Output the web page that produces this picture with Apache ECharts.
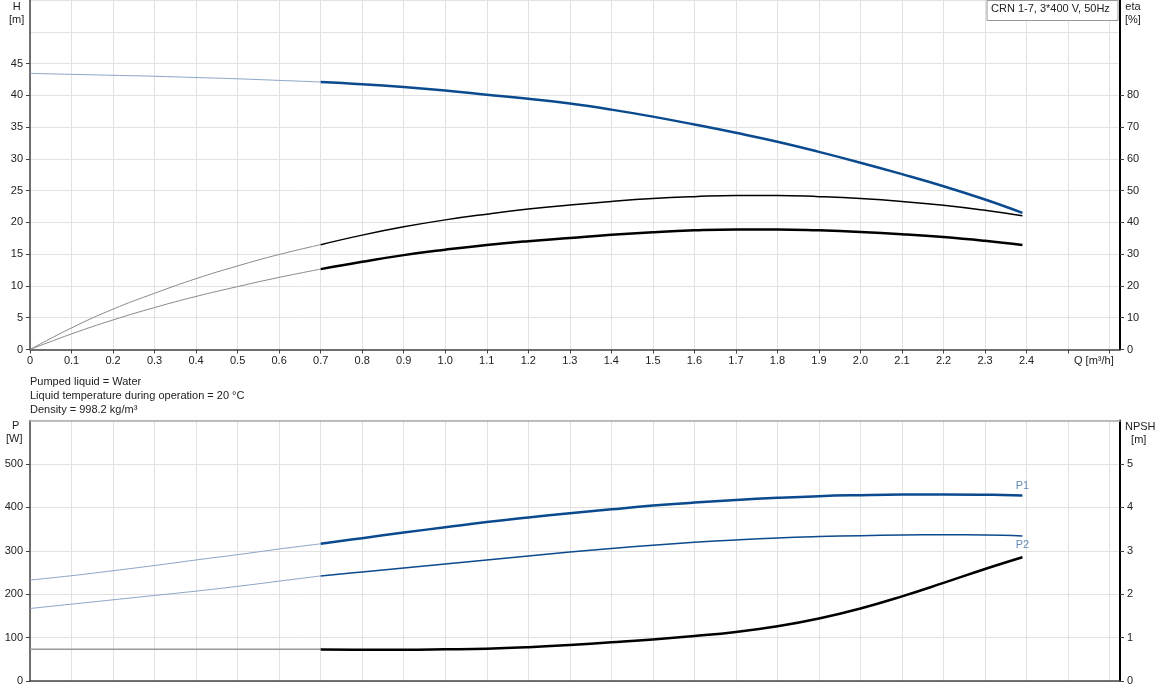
<!DOCTYPE html>
<html><head><meta charset="utf-8">
<script src="https://cdn.jsdelivr.net/npm/echarts@6/dist/echarts.min.js"></script>
<style>html,body{margin:0;padding:0;background:#fff}#c{width:1162px;height:700px}</style>
</head><body><div id="c"></div>
<script>
// ---- data ----
const qThin  = [0, 0.1, 0.2, 0.3, 0.4, 0.5, 0.6, 0.7];
const qThick = [0.7, 0.8, 0.9, 1.0, 1.1, 1.2, 1.3, 1.4, 1.5, 1.6, 1.7, 1.8, 1.9, 2.0, 2.1, 2.2, 2.3, 2.39];

const hThin  = [43.45, 43.3, 43.15, 43.0, 42.8, 42.6, 42.35, 42.1];
const hThick = [42.1, 41.75, 41.3, 40.75, 40.1, 39.45, 38.7, 37.75, 36.65, 35.4, 34.1, 32.7, 31.1, 29.4, 27.6, 25.7, 23.6, 21.5];

const etaThin  = [0, 6.8, 12.7, 17.7, 22.3, 26.3, 29.9, 33.0];
const etaThick = [33.0, 36.0, 38.6, 40.8, 42.6, 44.2, 45.5, 46.6, 47.5, 48.1, 48.5, 48.5, 48.1, 47.5, 46.6, 45.4, 43.8, 42.1];

const etaTotThin  = [0, 4.9, 9.3, 13.2, 16.7, 19.8, 22.7, 25.3];
const etaTotThick = [25.3, 27.6, 29.7, 31.4, 32.9, 34.1, 35.1, 36.1, 36.9, 37.5, 37.8, 37.8, 37.5, 37.0, 36.3, 35.4, 34.2, 32.9];

const p1Thin  = [232.5, 242.5, 254, 266, 278.8, 291, 304, 316];
const p1Thick = [316, 329, 342, 354, 366, 376.5, 386.5, 395.5, 404, 411, 417, 422, 425.8, 428, 429.5, 429.8, 429, 427.3];

const p2Thin  = [167, 177, 187, 197, 207, 218, 230, 242];
const p2Thick = [242, 251, 260.3, 269.5, 278.8, 288, 297, 305, 312.7, 319.5, 325, 329.5, 332.6, 334.8, 336.3, 336.8, 336.5, 334.2];

const npshThin  = [0.73, 0.73, 0.73, 0.73, 0.73, 0.73, 0.73, 0.73];
const npshThick = [0.724, 0.72, 0.72, 0.73, 0.745, 0.78, 0.83, 0.89, 0.955, 1.035, 1.13, 1.26, 1.44, 1.67, 1.95, 2.26, 2.58, 2.85];

const hLabels   = [0, 5, 10, 15, 20, 25, 30, 35, 40, 45];
const etaLabels = [0, 10, 20, 30, 40, 50, 60, 70, 80];
const pLabels   = [0, 100, 200, 300, 400, 500];
const npshLabels= [0, 1, 2, 3, 4, 5];
const qLabelMax = 2.4;

const infoLines = ['Pumped liquid = Water', 'Liquid temperature during operation = 20 \u00B0C', 'Density = 998.2 kg/m\u00B3'];
const boxTitle = 'CRN 1-7, 3*400 V, 50Hz';

// ---- chart ----
const FONT = "'Liberation Sans', Arial, sans-serif";
const BLUE = '#0b4a8e';
const zip = (xs, ys) => xs.map((x, i) => [x, ys[i]]);
const last = arr => arr[arr.length - 1];
const chart = echarts.init(document.getElementById('c'), null, {renderer: 'canvas'});

const lbl = {fontFamily: FONT, fontSize: 11, color: '#222'};
const gridSplit = {show: true, lineStyle: {color: '#e2e2e2', width: 1}};
const XMAX = 2.625;

function xAx(grid, withLabels) {
  return {
    type: 'value', gridIndex: grid, min: 0, max: XMAX, interval: 0.1,
    axisLine: {show: true, onZero: false, lineStyle: {color: '#444', width: 1.5}},
    axisTick: {show: withLabels, length: 4, lineStyle: {color: '#444'}},
    axisLabel: withLabels ? Object.assign({show: true, margin: 6, showMaxLabel: false, hideOverlap: false,
      formatter: v => v > qLabelMax + 0.05 ? '' : (v === 0 ? '0' : v.toFixed(1))}, lbl) : {show: false},
    splitLine: gridSplit
  };
}
function yAx(grid, pos, max, interval, labels, lineColor, lineWidth) {
  const top = last(labels);
  return {
    type: 'value', gridIndex: grid, position: pos, min: 0, max: max, interval: interval,
    axisLine: {show: true, onZero: false, lineStyle: {color: lineColor, width: lineWidth}},
    axisTick: {show: true, length: 4, customValues: labels, lineStyle: {color: '#444'}},
    axisLabel: Object.assign({show: true, margin: 7, customValues: labels,
      formatter: v => v > top + 1e-9 ? '' : String(v)}, lbl),
    splitLine: {show: false}
  };
}
function ySplit(grid, max, interval) {
  return {
    type: 'value', gridIndex: grid, position: 'left', min: 0, max: max, interval: interval,
    axisLine: {show: false}, axisTick: {show: false}, axisLabel: {show: false},
    splitLine: gridSplit
  };
}
function line(xi, yi, data, color, width, z) {
  return {
    type: 'line', xAxisIndex: xi, yAxisIndex: yi, data: data, smooth: 0.45,
    showSymbol: false, symbol: 'none', silent: true, z: z,
    lineStyle: {color: color, width: width}, emphasis: {disabled: true}
  };
}
function tag(xi, yi, pt, text, pos) {
  return {
    type: 'scatter', xAxisIndex: xi, yAxisIndex: yi, data: [pt], symbolSize: 2, silent: true, z: 10,
    itemStyle: {color: 'rgba(0,0,0,0)'},
    label: {show: true, position: pos, distance: 3, formatter: text, color: '#3a6ea8', fontFamily: FONT, fontSize: 11},
    emphasis: {disabled: true}
  };
}

const option = {
  animation: false,
  backgroundColor: '#fff',
  grid: [
    {left: 30, top: 0, width: 1090, height: 349.5, outerBoundsMode: 'none', containLabel: false},
    {left: 30, top: 420.5, width: 1090, height: 260.5, outerBoundsMode: 'none', containLabel: false}
  ],
  xAxis: [
    xAx(0, true),
    xAx(1, false),
    {type: 'value', gridIndex: 1, position: 'top', min: 0, max: XMAX, interval: 0.1,
      axisLine: {show: true, onZero: false, lineStyle: {color: '#aaa', width: 1.5}},
      axisTick: {show: false}, axisLabel: {show: false}, splitLine: {show: false}}
  ],
  yAxis: [
    yAx(0, 'left', 55, 5, hLabels, '#444', 1.5),
    yAx(0, 'right', 110, 10, etaLabels, '#000', 2),
    ySplit(0, 55, 5),
    yAx(1, 'left', 600, 100, pLabels, '#444', 1.5),
    yAx(1, 'right', 6, 1, npshLabels, '#000', 2),
    ySplit(1, 600, 100)
  ],
  series: [
    line(0, 1, zip(qThin, etaThin), '#8a8a8a', 1, 3),
    line(0, 1, zip(qThick, etaThick), '#000', 1.5, 4),
    line(0, 1, zip(qThin, etaTotThin), '#8a8a8a', 1, 3),
    line(0, 1, zip(qThick, etaTotThick), '#000', 2.5, 4),
    line(0, 0, zip(qThin, hThin), '#8aa5c8', 1, 5),
    line(0, 0, zip(qThick, hThick), BLUE, 2.5, 6),
    line(1, 3, zip(qThin, p1Thin), '#8aa5c8', 1, 5),
    line(1, 3, zip(qThick, p1Thick), BLUE, 2.5, 6),
    line(1, 3, zip(qThin, p2Thin), '#8aa5c8', 1, 5),
    line(1, 3, zip(qThick, p2Thick), BLUE, 1.5, 6),
    line(1, 4, zip(qThin, npshThin), '#9a9a9a', 1.5, 3),
    line(1, 4, zip(qThick, npshThick), '#000', 2.5, 4),
    tag(1, 3, [last(qThick), last(p1Thick)], 'P1', 'top'),
    tag(1, 3, [last(qThick), last(p2Thick)], 'P2', 'bottom')
  ],
  graphic: [
    {type: 'text', left: 9, top: 0, style: {text: 'H\n[m]', fill: '#222', font: '11px ' + FONT, lineHeight: 13, textAlign: 'center', x: 6}},
    {type: 'text', left: 1125, top: 0, style: {text: 'eta\n[%]', fill: '#222', font: '11px ' + FONT, lineHeight: 13, textAlign: 'center'}},
    {type: 'text', left: 6, top: 419, style: {text: ' P\n[W]', fill: '#222', font: '11px ' + FONT, lineHeight: 13, textAlign: 'center'}},
    {type: 'text', left: 1125, top: 420, style: {text: 'NPSH\n  [m]', fill: '#222', font: '11px ' + FONT, lineHeight: 13}},
    {type: 'text', left: 1074, top: 355, style: {text: 'Q [m\u00B3/h]', fill: '#222', font: '11px ' + FONT}},
    {type: 'text', left: 30, top: 375, style: {text: infoLines.join('\n'), fill: '#222', font: '11px ' + FONT, lineHeight: 14}},
    {type: 'rect', shape: {x: 987, y: 0.5, width: 131, height: 20}, style: {fill: '#fff', stroke: '#999', lineWidth: 1}, z: 100},
    {type: 'text', left: 991, top: 3, style: {text: boxTitle, fill: '#222', font: '11px ' + FONT}, z: 101}
  ]
};
chart.setOption(option);
</script>
</body></html>
